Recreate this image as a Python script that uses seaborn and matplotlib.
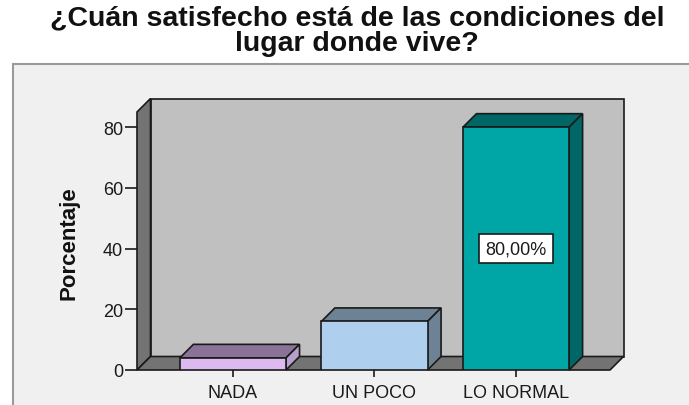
import matplotlib
matplotlib.use("Agg")
import matplotlib.pyplot as plt
from matplotlib.patches import Polygon, Rectangle
import seaborn as sns

# data
categories = ["NADA", "UN POCO", "LO NORMAL"]
percentages = [4.0, 16.0, 80.0]
y_ticks = [0, 20, 40, 60, 80]
labelled = ["LO NORMAL"]

front_colors = ["#DDB9F1", "#AED0EE", "#00A5A5"]
top_colors = ["#8B7398", "#6E8296", "#006666"]
side_colors = ["#B8A0CC", "#6E8296", "#006666"]

title = "¿Cuán satisfecho está de las condiciones del\nlugar donde vive?"

sns.set_theme(style="white")
plt.rcParams["font.family"] = ["Liberation Sans", "DejaVu Sans"]

W, H = 689, 406
fig = plt.figure(figsize=(W / 100, H / 100), dpi=100)
fig.patch.set_facecolor("white")

# light grey chart frame (only top and left edges visible)
fig.patches.append(Rectangle((13 / W, -0.1), 1.0, (H - 65) / H + 0.1,
                             transform=fig.transFigure, facecolor="#F0F0F0",
                             edgecolor="#9A9A9A", lw=1.5, zorder=-5))

ax = fig.add_axes([137 / W, 35 / H, 473 / W, 258 / H])
ax.patch.set_visible(False)

sns.barplot(x=categories, y=percentages, hue=categories, palette=front_colors,
            width=0.75, edgecolor="#1A1A1A", linewidth=1.2, errorbar=None,
            legend=False, ax=ax, zorder=3, saturation=1)
bars = [p for p in ax.patches]

xmin, xmax = -0.678, 2.664
ymin, ymax = 0, 85
ax.set_xlim(xmin, xmax)
ax.set_ylim(ymin, ymax)

# depth of the pseudo-3D effect, in pixels -> data units
depth_px = 13.5
dx = depth_px * (xmax - xmin) / 473
dy = depth_px * (ymax - ymin) / 258

wall_kw = dict(edgecolor="#1A1A1A", lw=1.2, clip_on=False)
ax.add_patch(Rectangle((xmin + dx, ymin + dy), xmax - xmin, ymax - ymin,
                       facecolor="#C0C0C0", zorder=0.5, **wall_kw))
ax.add_patch(Polygon([(xmin, ymin), (xmin, ymax), (xmin + dx, ymax + dy),
                      (xmin + dx, ymin + dy)], facecolor="#737373", zorder=0.6, **wall_kw))
ax.add_patch(Polygon([(xmin, ymin), (xmax, ymin), (xmax + dx, ymin + dy),
                      (xmin + dx, ymin + dy)], facecolor="#737373", zorder=0.7, **wall_kw))

# top and side faces for each bar, plus the value label
for bar, cat, val, tc, sc in zip(bars, categories, percentages, top_colors, side_colors):
    x0, w, h = bar.get_x(), bar.get_width(), bar.get_height()
    ax.add_patch(Polygon([(x0, h), (x0 + w, h), (x0 + w + dx, h + dy), (x0 + dx, h + dy)],
                         facecolor=tc, zorder=2.9, **wall_kw))
    ax.add_patch(Polygon([(x0 + w, 0), (x0 + w, h), (x0 + w + dx, h + dy), (x0 + w + dx, dy)],
                         facecolor=sc, zorder=2.9, **wall_kw))
    if cat in labelled:
        ax.text(x0 + w / 2, h / 2, f"{val:.2f}%".replace(".", ","), ha="center", va="center",
                fontsize=13, color="#1A1A1A", zorder=5,
                bbox=dict(boxstyle="square,pad=0.35", facecolor="white",
                          edgecolor="#1A1A1A", lw=1.2))

for s in ax.spines.values():
    s.set_visible(False)
ax.set_yticks(y_ticks)
ax.set_yticklabels([str(t) for t in y_ticks])
ax.tick_params(axis="y", left=True, length=9, width=1.2, color="#1A1A1A",
               labelsize=13, labelcolor="#1A1A1A", pad=1)
ax.tick_params(axis="x", bottom=True, length=5, width=1.2, color="#1A1A1A",
               labelsize=13, labelcolor="#1A1A1A", pad=5)
ax.set_xlabel("")
ax.set_ylabel("")

fig.text(69 / W, (H - 243) / H, "Porcentaje", rotation=90, ha="center", va="center",
         fontsize=16, fontweight="bold", color="#111111",
         family=["Liberation Sans Narrow", "Liberation Sans"])

fig.text(357 / W, 1 - 5 / H, title, ha="center", va="top", fontsize=20.5,
         fontweight="bold", color="#111111", linespacing=1.0)

fig.savefig("out.png", dpi=100, facecolor=fig.get_facecolor())
